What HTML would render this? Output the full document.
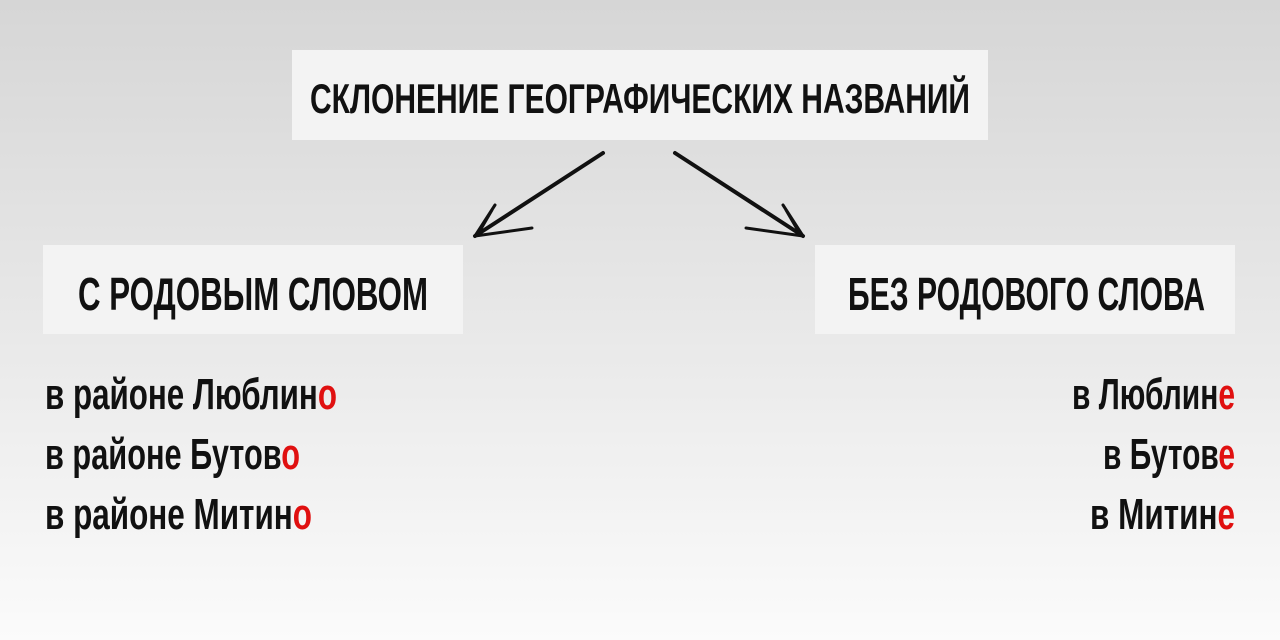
<!DOCTYPE html>
<html><head><meta charset="utf-8"><style>
html,body{margin:0;padding:0;width:1280px;height:640px;overflow:hidden}
body{background:linear-gradient(#d6d6d6,#e6e6e6 45%,#fbfbfb)}
svg text{font-family:"Liberation Sans",sans-serif;fill:#111;font-weight:bold}
</style></head><body>
<svg width="1280" height="640" viewBox="0 0 1280 640" xmlns="http://www.w3.org/2000/svg">
<rect x="292" y="50" width="696" height="90" fill="#f3f3f3"/>
<rect x="43" y="245" width="420" height="89" fill="#f3f3f3"/>
<rect x="815" y="245" width="420" height="89" fill="#f3f3f3"/>
<text x="310" y="113" font-size="42" textLength="660" lengthAdjust="spacingAndGlyphs">СКЛОНЕНИЕ ГЕОГРАФИЧЕСКИХ НАЗВАНИЙ</text>
<text x="78" y="310" font-size="46" textLength="350" lengthAdjust="spacingAndGlyphs">С РОДОВЫМ СЛОВОМ</text>
<text x="848" y="310" font-size="46" textLength="357" lengthAdjust="spacingAndGlyphs">БЕЗ РОДОВОГО СЛОВА</text>
<g font-size="44">
<text x="45" y="409" textLength="292" lengthAdjust="spacingAndGlyphs">в районе  Люблин<tspan fill="#e01010">о</tspan></text>
<text x="45" y="469" textLength="255" lengthAdjust="spacingAndGlyphs">в районе Бутов<tspan fill="#e01010">о</tspan></text>
<text x="45" y="529" textLength="267" lengthAdjust="spacingAndGlyphs">в районе Митин<tspan fill="#e01010">о</tspan></text>
<text x="1072" y="409" textLength="163" lengthAdjust="spacingAndGlyphs">в Люблин<tspan fill="#e01010">е</tspan></text>
<text x="1103" y="469" textLength="132" lengthAdjust="spacingAndGlyphs">в Бутов<tspan fill="#e01010">е</tspan></text>
<text x="1090" y="529" textLength="145" lengthAdjust="spacingAndGlyphs">в Митин<tspan fill="#e01010">е</tspan></text>
</g>
<g stroke="#111" fill="none" stroke-linecap="round">
<path d="M603 153 L475 236" stroke-width="4"/>
<path d="M598 156 L480 233" stroke-width="2"/>
<path d="M475 236 L495 205 M475 236 L532 228 M478 234 L492 210" stroke-width="3"/>
<path d="M675 153 L803 236" stroke-width="4"/>
<path d="M680 156 L798 233" stroke-width="2"/>
<path d="M803 236 L783 205 M803 236 L746 228 M800 234 L786 210" stroke-width="3"/>
</g>
</svg>
</body></html>
